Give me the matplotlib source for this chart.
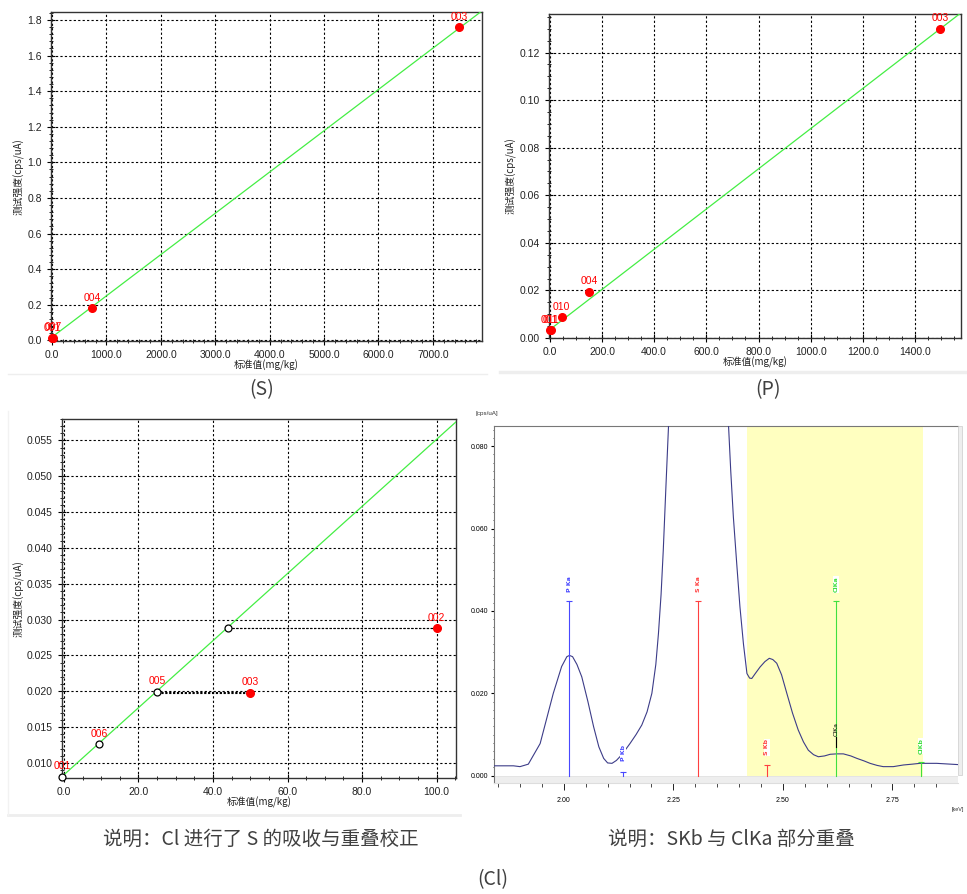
import numpy as np
import matplotlib
matplotlib.use("Agg")
import matplotlib.pyplot as plt
from matplotlib.ticker import MultipleLocator, FixedLocator, FuncFormatter
from matplotlib.patches import Rectangle

plt.rcParams['font.family'] = ['Liberation Sans', 'Noto Sans CJK SC', 'DejaVu Sans']

# ---------------- data ----------------
# (S) calibration
s_x = [0, 25, 730, 7480]
s_y = [0.012, 0.014, 0.18, 1.76]
s_labels = ['001', '007', '004', '003']
s_line_x = [0, 7900]
s_line_y = [0.018, 1.85]

# (P) calibration
p_x = [0, 3, 45, 150, 1495]
p_y = [0.0032, 0.0033, 0.0087, 0.0195, 0.130]
p_labels = ['001', '011', '010', '004', '003']
p_line_x = [0, 1576]
p_line_y = [0.0035, 0.1367]

# (Cl) calibration: corrected (open) and measured (red)
cl_open_x = [-0.5, 9.5, 25, 44]
cl_open_y = [0.0081, 0.0126, 0.0199, 0.0288]
cl_open_labels = ['001', '006', '005', '']
cl_red_x = [50, 100]
cl_red_y = [0.0198, 0.0288]
cl_red_labels = ['003', '002']
cl_line_x = [-0.5, 105.2]
cl_line_y = [0.0081, 0.0576]

# spectrum (keV, cps/uA)
sp_e = [1.840, 1.885, 1.900, 1.919, 1.946, 1.976, 1.995, 2.007, 2.013, 2.020, 2.030, 2.041,
        2.055, 2.068, 2.080, 2.091, 2.100, 2.110, 2.120, 2.128, 2.140, 2.151, 2.165, 2.178,
        2.190, 2.201, 2.210, 2.216, 2.222, 2.227, 2.233, 2.239, 2.245,
        2.370, 2.376, 2.381, 2.387, 2.395, 2.402, 2.410, 2.418, 2.424, 2.429, 2.437, 2.448,
        2.459, 2.469, 2.477, 2.486, 2.497, 2.509, 2.522, 2.535, 2.547, 2.558, 2.570, 2.581,
        2.595, 2.608, 2.623, 2.638, 2.655, 2.669, 2.685, 2.699, 2.715, 2.729, 2.752, 2.775,
        2.795, 2.813, 2.851, 2.899]
sp_i = [0.0024, 0.0024, 0.0022, 0.0028, 0.0078, 0.0200, 0.0265, 0.0289, 0.0292, 0.0289, 0.0270, 0.0240,
        0.0180, 0.0119, 0.0070, 0.0042, 0.0031, 0.0030, 0.0037, 0.0046, 0.0062, 0.0078, 0.0100, 0.0123,
        0.0155, 0.0200, 0.0270, 0.0345, 0.0440, 0.0547, 0.0700, 0.0849, 0.1000,
        0.1000, 0.0849, 0.0740, 0.0628, 0.0510, 0.0410, 0.0320, 0.0248, 0.0237, 0.0236, 0.0248, 0.0264,
        0.0277, 0.0285, 0.0282, 0.0273, 0.0245, 0.0200, 0.0152, 0.0111, 0.0082, 0.0062, 0.0051, 0.0046,
        0.0048, 0.0052, 0.0053, 0.0053, 0.0048, 0.0042, 0.0036, 0.0030, 0.0025, 0.0022, 0.0022, 0.0026,
        0.0028, 0.0030, 0.0030, 0.0027]

# element markers: name, energy, top, label position, colour
lines_name = ['P Ka', 'P Kb', 'S Ka', 'S Kb', 'ClKa', 'ClKb']
lines_e = [2.013, 2.136, 2.307, 2.463, 2.621, 2.815]
lines_top = [0.0425, 0.0010, 0.0425, 0.0027, 0.0425, 0.0034]
lines_lbl_y = [0.0445, 0.0035, 0.0445, 0.0050, 0.0445, 0.0053]
lines_col = ['#4848ff', '#4848ff', '#ff4040', '#ff4040', '#40e040', '#40e040']
band_e = [2.419, 2.819]

W, H = 967, 894
fig = plt.figure(figsize=(W / 100, H / 100), dpi=100)


def ax_px(l, t, r, b):
    return fig.add_axes([l / W, 1 - b / H, (r - l) / W, (b - t) / H])


GREEN = '#44ee44'
RED = '#ff0000'
CJK = ['Noto Sans CJK SC', 'DejaVu Sans']


def style_cal(ax, xlim, ylim, xmaj, xmin_, ymaj, ymin_, xfmt, yfmt):
    ax.set_xlim(*xlim)
    ax.set_ylim(*ylim)
    ax.xaxis.set_major_locator(MultipleLocator(xmaj))
    ax.xaxis.set_minor_locator(MultipleLocator(xmin_))
    ax.yaxis.set_major_locator(MultipleLocator(ymaj))
    ax.yaxis.set_minor_locator(MultipleLocator(ymin_))
    ax.xaxis.set_major_formatter(FuncFormatter(lambda v, p: xfmt.format(v)))
    ax.yaxis.set_major_formatter(FuncFormatter(lambda v, p: yfmt.format(v)))
    ax.grid(True, which='major', color='black', linestyle=(0, (2, 2)), linewidth=0.8)
    ax.tick_params(which='major', direction='inout', length=6, width=0.8, labelsize=7.5, colors='black',
                   labelcolor='#222222')
    ax.tick_params(which='minor', direction='inout', length=3, width=0.6)
    for s in ax.spines.values():
        s.set_linewidth(1.0)
        s.set_color('#333333')
    ax.set_ylabel('测试强度(cps/uA)', fontsize=7, family=CJK, labelpad=2, color='#222222')
    ax.set_xlabel('标准值(mg/kg)', fontsize=7, family=CJK, labelpad=0, color='#222222')
    ax.set_axisbelow(True)


def label_pts(ax, xs, ys, labels, dy=4):
    for x, y, t in zip(xs, ys, labels):
        if t:
            ax.annotate(t, (x, y), xytext=(0, dy), textcoords='offset points', ha='center',
                        va='bottom', color=RED, fontsize=7.5, clip_on=False)


# ---------- (S) ----------
axS = ax_px(51, 12, 482, 341)
style_cal(axS, (-20, 7905), (-0.004, 1.845), 1000, 200, 0.2, 0.04, '{:.1f}', '{:.1f}')
axS.plot(s_line_x, s_line_y, color=GREEN, lw=0.9, zorder=3)
axS.plot(s_x, s_y, 'o', color=RED, ms=5.5, zorder=4, clip_on=False)
label_pts(axS, s_x, s_y, s_labels)

# ---------- (P) ----------
axP = ax_px(549, 14, 961, 338)
style_cal(axP, (-3, 1576), (0, 0.1362), 200, 50, 0.02, 0.005, '{:.1f}', '{:.2f}')
axP.plot(p_line_x, p_line_y, color=GREEN, lw=0.9, zorder=3)
axP.plot(p_x, p_y, 'o', color=RED, ms=5.5, zorder=4, clip_on=False)
label_pts(axP, p_x, p_y, p_labels)

# ---------- (Cl) ----------
axC = ax_px(62, 419, 456, 778)
style_cal(axC, (-0.5, 105.2), (0.0079, 0.058), 20, 5, 0.005, 0.001, '{:.1f}', '{:.3f}')
axC.plot(cl_line_x, cl_line_y, color=GREEN, lw=0.9, zorder=3)
for xo, yo, xr, yr in zip(cl_open_x[2:], cl_open_y[2:], cl_red_x, cl_red_y):
    axC.plot([xo, xr], [yo, yo], color='black', lw=0.8, linestyle=(0, (2, 1.5)), zorder=3)
    axC.plot([xo, xr], [yr, yr], color='black', lw=0.8, linestyle=(0, (2, 1.5)), zorder=3)
axC.plot(cl_open_x, cl_open_y, 'o', mfc='white', mec='black', mew=0.9, ms=5, zorder=5, clip_on=False)
axC.plot(cl_red_x, cl_red_y, 'o', color=RED, ms=5.5, zorder=5)
label_pts(axC, cl_open_x, cl_open_y, cl_open_labels)
label_pts(axC, cl_red_x, cl_red_y, cl_red_labels)

# ---------- spectrum ----------
axT = ax_px(493.7, 426, 957.7, 782.7)
ylo = -0.0017
axT.set_xlim(1.840, 2.899)
axT.set_ylim(ylo, 0.0849)
axT.add_patch(Rectangle((band_e[0], 0), band_e[1] - band_e[0], 0.09, facecolor='#ffffc0',
                        edgecolor='none', zorder=0))
axT.add_patch(Rectangle((1.84, ylo), 1.06, -ylo, facecolor='#eeeeee', edgecolor='#dddddd',
                        lw=0.5, zorder=1))
axT.plot(sp_e, sp_i, color='#3c3c88', lw=0.8, zorder=3)
for n, e, top, ly, c in zip(lines_name, lines_e, lines_top, lines_lbl_y, lines_col):
    axT.plot([e, e], [0, top], color=c, lw=0.8, zorder=4)
    axT.plot([e], [top], marker='_', color=c, ms=4, mew=0.8, zorder=4)
    axT.text(e, ly, n, rotation=90, ha='center', va='bottom', fontsize=4.5, color=c,
             fontweight='bold', zorder=6, family='DejaVu Sans',
             bbox=dict(facecolor='white', edgecolor='none', pad=0.3))
# Cl Ka sum marker (black)
axT.plot([lines_e[4], lines_e[4]], [0.0070, 0.0095], color='black', lw=0.8, zorder=5)
axT.text(lines_e[4], 0.0096, 'ClKa', rotation=90, ha='center', va='bottom', fontsize=4.5,
         color='black', zorder=6, family='DejaVu Sans')
axT.yaxis.set_major_locator(FixedLocator([0.0, 0.02, 0.04, 0.06, 0.08]))
axT.yaxis.set_minor_locator(MultipleLocator(0.002))
axT.xaxis.set_major_locator(FixedLocator([2.0, 2.25, 2.5, 2.75]))
axT.xaxis.set_minor_locator(MultipleLocator(0.05))
axT.yaxis.set_major_formatter(FuncFormatter(lambda v, p: '{:.3f}'.format(v)))
axT.xaxis.set_major_formatter(FuncFormatter(lambda v, p: '{:.2f}'.format(v)))
axT.tick_params(axis='y', which='major', direction='out', length=2, labelsize=5, pad=2)
axT.tick_params(axis='y', which='minor', direction='out', length=1, width=0.5)
axT.tick_params(axis='x', which='major', direction='out', length=5, labelsize=5, pad=5, width=0.6)
axT.tick_params(axis='x', which='minor', direction='out', length=3, width=0.5)
for k, s in axT.spines.items():
    s.set_linewidth(0.8)
    s.set_color('#777777')
axT.spines['right'].set_visible(False)
axT.spines['bottom'].set_color('#dddddd')
fig.patches.append(Rectangle((957.7 / W, 1 - 775 / H), 4 / W, (775 - 426) / H, transform=fig.transFigure,
                             facecolor='#eeeeee', edgecolor='#cccccc', lw=0.5))
fig.text(475 / W, 1 - 414 / H, '[cps/uA]', fontsize=4.5, color='#333333', va='center')
fig.text(964 / W, 1 - 810 / H, '[keV]', fontsize=4, color='#333333', va='center', ha='right')

# ---------- separators ----------
for (x0, x1, y, c, lw) in [(8, 487, 374, '#eeeeee', 1.0), (500, 967, 372, '#eeeeee', 2.5),
                           (8, 460, 815, '#eeeeee', 2.0)]:
    fig.add_artist(plt.Line2D([x0 / W, x1 / W], [1 - y / H, 1 - y / H], color=c, lw=lw,
                              transform=fig.transFigure))
fig.add_artist(plt.Line2D([8 / W, 8 / W], [1 - 411 / H, 1 - 815 / H], color='#f2f2f2', lw=1,
                          transform=fig.transFigure))

# ---------- captions ----------
cap = dict(fontsize=14, color='#404040', family=['Noto Sans CJK SC', 'DejaVu Sans'],
           ha='center', va='center')
fig.text(262 / W, 1 - 390 / H, '(S)', **cap)
fig.text(768 / W, 1 - 390 / H, '(P)', **cap)
fig.text(261 / W, 1 - 839 / H, '说明：Cl 进行了 S 的吸收与重叠校正', **cap)
fig.text(731 / W, 1 - 839 / H, '说明：SKb 与 ClKa 部分重叠', **cap)
fig.text(493 / W, 1 - 880 / H, '(Cl)', **cap)

fig.savefig('out.png', dpi=100, facecolor='white')
